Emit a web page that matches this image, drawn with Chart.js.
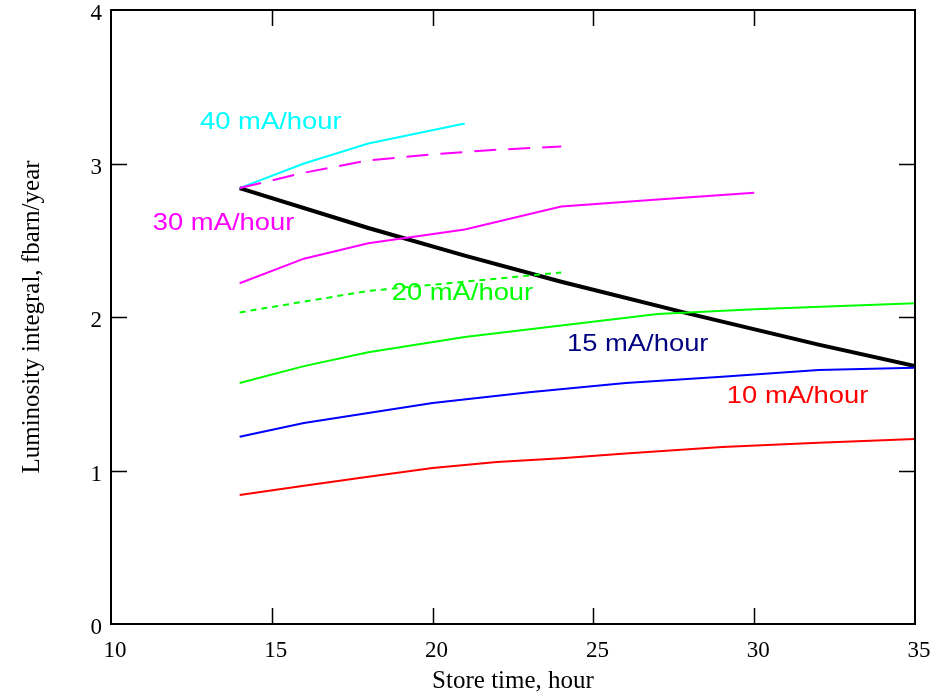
<!DOCTYPE html>
<html>
<head>
<meta charset="utf-8">
<script src="https://cdn.jsdelivr.net/npm/chart.js@4/dist/chart.umd.min.js"></script>
<style>
  html, body { margin: 0; padding: 0; background: #ffffff; }
  #wrap { width: 936px; height: 697px; position: relative; }
</style>
</head>
<body>
<div id="wrap"><canvas id="c" width="936" height="697"></canvas></div>
<script>
// ---- Data ----
const xTitle = "Store time, hour";
const yTitle = "Luminosity integral, fbarn/year";

const optimumX = [14, 18, 21, 24, 28, 32, 35];
const optimumY = [2.84, 2.58, 2.40, 2.23, 2.02, 1.82, 1.68];

const rate40X = [14, 16, 18, 21];
const rate40Y = [2.84, 3.00, 3.13, 3.26];

const rate30DashX = [14, 16, 18, 20, 22, 24];
const rate30DashY = [2.84, 2.94, 3.02, 3.06, 3.09, 3.11];

const rate30X = [14, 16, 18, 21, 24, 27, 30];
const rate30Y = [2.22, 2.38, 2.48, 2.57, 2.72, 2.765, 2.81];

const rate20DotX = [14, 16, 18, 21, 24];
const rate20DotY = [2.03, 2.10, 2.17, 2.23, 2.29];

const rate20X = [14, 16, 18, 21, 24, 27, 30, 35];
const rate20Y = [1.57, 1.68, 1.77, 1.87, 1.945, 2.02, 2.05, 2.09];

const rate15X = [14, 16, 18, 20, 23, 26, 29, 32, 35];
const rate15Y = [1.22, 1.31, 1.375, 1.44, 1.51, 1.57, 1.61, 1.655, 1.67];

const rate10X = [14, 16, 18, 20, 22, 24, 26, 29, 32, 35];
const rate10Y = [0.84, 0.90, 0.96, 1.016, 1.055, 1.08, 1.11, 1.153, 1.18, 1.205];

const xTicks = [10, 15, 20, 25, 30, 35];
const yTicks = [0, 1, 2, 3, 4];

const labelTexts = ["40 mA/hour", "30 mA/hour", "20 mA/hour", "15 mA/hour", "10 mA/hour"];
const labelColors = ["#00ffff", "#ff00ff", "#00ff00", "#000080", "#ff0000"];
// anchor (left, baseline) in data units
const labelAnchorX = [12.77, 11.30, 18.73, 24.18, 29.15];
const labelAnchorY = [3.225, 2.567, 2.111, 1.778, 1.440];

function pts(xs, ys) { return xs.map((x, i) => ({ x: x, y: ys[i] })); }

function ds(xs, ys, color, width, dash) {
  return {
    data: pts(xs, ys),
    borderColor: color,
    backgroundColor: color,
    borderWidth: width,
    borderDash: dash || [],
    pointRadius: 0,
    tension: 0,
    fill: false
  };
}

const frameAndLabels = {
  id: 'frameAndLabels',
  afterDatasetsDraw(chart) {
    const ctx = chart.ctx;
    const xs = chart.scales.x, ys = chart.scales.y;
    const a = chart.chartArea;
    ctx.save();
    // frame
    ctx.strokeStyle = '#000';
    ctx.lineWidth = 2;
    ctx.strokeRect(a.left, a.top, a.right - a.left, a.bottom - a.top);
    // inward ticks
    ctx.lineWidth = 1.5;
    const tl = 16;
    ctx.beginPath();
    xTicks.slice(1, -1).forEach(v => {
      const p = Math.round(xs.getPixelForValue(v)) + 0.5;
      ctx.moveTo(p, a.bottom); ctx.lineTo(p, a.bottom - tl);
      ctx.moveTo(p, a.top); ctx.lineTo(p, a.top + tl);
    });
    yTicks.slice(1, -1).forEach(v => {
      const p = Math.round(ys.getPixelForValue(v)) + 0.5;
      ctx.moveTo(a.left, p); ctx.lineTo(a.left + tl, p);
      ctx.moveTo(a.right, p); ctx.lineTo(a.right - tl, p);
    });
    ctx.stroke();
    // curve labels
    ctx.font = '24px "Liberation Sans", Arial, sans-serif';
    ctx.textAlign = 'left';
    ctx.textBaseline = 'alphabetic';
    labelTexts.forEach((t, i) => {
      ctx.save();
      ctx.translate(xs.getPixelForValue(labelAnchorX[i]), ys.getPixelForValue(labelAnchorY[i]));
      ctx.scale(1.14, 1);
      ctx.fillStyle = labelColors[i];
      ctx.fillText(t, 0, 0);
      ctx.restore();
    });
    ctx.restore();
  }
};

const serif = '"Liberation Serif", "Times New Roman", serif';

new Chart(document.getElementById('c'), {
  type: 'line',
  data: {
    datasets: [
      ds(rate10X, rate10Y, '#ff0000', 2),
      ds(rate15X, rate15Y, '#0000ff', 2),
      ds(rate20X, rate20Y, '#00ff00', 2),
      ds(rate20DotX, rate20DotY, '#00ff00', 2, [6, 5]),
      ds(rate30X, rate30Y, '#ff00ff', 2),
      ds(rate30DashX, rate30DashY, '#ff00ff', 2, [22, 12]),
      ds(rate40X, rate40Y, '#00ffff', 2),
      ds(optimumX, optimumY, '#000000', 4)
    ]
  },
  options: {
    responsive: false,
    animation: false,
    devicePixelRatio: 1,
    layout: { padding: { top: 10, right: 21, left: 0, bottom: 0 } },
    plugins: { legend: { display: false }, tooltip: { enabled: false } },
    scales: {
      x: {
        type: 'linear',
        min: 10, max: 35,
        afterFit(s) { s.height = 73; s.paddingLeft = 0; s.paddingRight = 0; },
        afterBuildTicks(s) { s.ticks = xTicks.map(v => ({ value: v })); },
        grid: { display: false, drawTicks: false },
        border: { display: false },
        ticks: {
          color: '#000',
          font: { family: serif, size: 23 },
          padding: 13,
          labelOffset: 4,
          maxRotation: 0,
          autoSkip: false
        },
        title: {
          display: true,
          text: xTitle,
          color: '#000',
          font: { family: serif, size: 25 },
          padding: { top: 0, bottom: 1 }
        }
      },
      y: {
        type: 'linear',
        min: 0, max: 4,
        afterFit(s) { s.width = 111; s.paddingTop = 0; s.paddingBottom = 0; },
        afterBuildTicks(s) { s.ticks = yTicks.map(v => ({ value: v })); },
        grid: { display: false, drawTicks: false },
        border: { display: false },
        ticks: {
          color: '#000',
          font: { family: serif, size: 23 },
          padding: 9,
          labelOffset: 4,
          autoSkip: false
        },
        title: {
          display: true,
          text: yTitle,
          color: '#000',
          font: { family: serif, size: 25 },
          padding: { top: 17, bottom: 0 }
        }
      }
    }
  },
  plugins: [frameAndLabels]
});
</script>
</body>
</html>
